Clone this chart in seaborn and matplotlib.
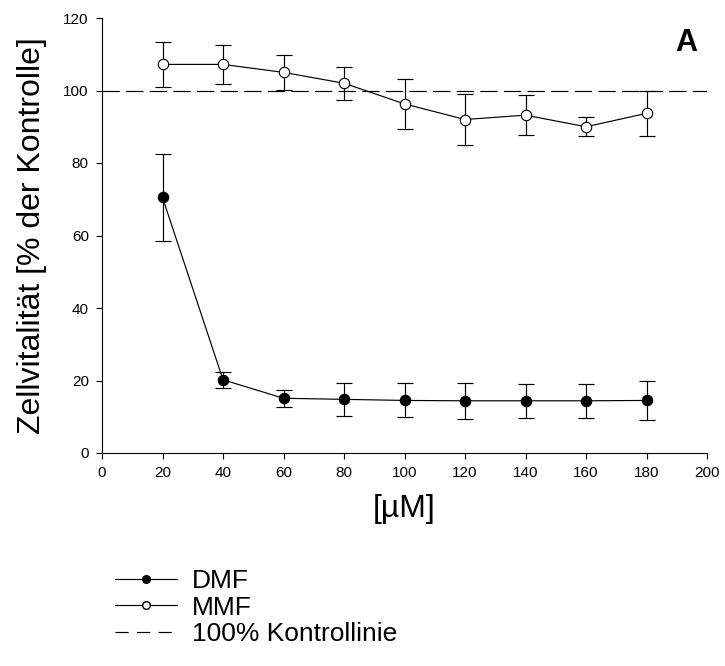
import matplotlib
matplotlib.use("Agg")
import matplotlib.pyplot as plt
from matplotlib.lines import Line2D
import seaborn as sns
import pandas as pd
import numpy as np

# ---- data ----
conc = [20, 40, 60, 80, 100, 120, 140, 160, 180]
dmf_mean = [70.5, 20.2, 15.1, 14.8, 14.5, 14.4, 14.4, 14.4, 14.5]
dmf_err = [11.9, 2.2, 2.3, 4.6, 4.7, 5.0, 4.7, 4.7, 5.4]
mmf_mean = [107.2, 107.2, 105.0, 102.0, 96.3, 92.0, 93.2, 90.0, 93.7]
mmf_err = [6.3, 5.3, 4.8, 4.5, 6.9, 7.1, 5.6, 2.6, 6.3]
control_level = 100
x_ticks = [0, 20, 40, 60, 80, 100, 120, 140, 160, 180, 200]
y_ticks = [0, 20, 40, 60, 80, 100, 120]
labels = ["DMF", "MMF", "100% Kontrollinie"]

sns.set_style("ticks")
plt.rcParams["font.family"] = ["Liberation Sans", "DejaVu Sans"]
plt.rcParams["lines.scale_dashes"] = False
plt.rcParams["text.color"] = "black"
plt.rcParams["axes.labelcolor"] = "black"
plt.rcParams["xtick.color"] = "black"
plt.rcParams["ytick.color"] = "black"

fig = plt.figure(figsize=(7.25, 6.66), dpi=100)
ax = fig.add_axes([102 / 725, 1 - 453 / 666, 605 / 725, 435 / 666])

df_dmf = pd.DataFrame({"x": conc, "y": dmf_mean})
df_mmf = pd.DataFrame({"x": conc, "y": mmf_mean})

lw = 0.85
ax.errorbar(conc, dmf_mean, yerr=dmf_err, fmt="none", ecolor="black",
            elinewidth=lw, capsize=5.5, capthick=lw, zorder=2)
ax.errorbar(conc, mmf_mean, yerr=mmf_err, fmt="none", ecolor="black",
            elinewidth=lw, capsize=5.5, capthick=lw, zorder=2)

sns.lineplot(data=df_dmf, x="x", y="y", ax=ax, color="black", lw=lw,
             marker="o", markersize=7.5, markerfacecolor="black",
             markeredgecolor="black", markeredgewidth=0.8, label=labels[0],
             zorder=3)
sns.lineplot(data=df_mmf, x="x", y="y", ax=ax, color="black", lw=lw,
             marker="o", markersize=7.5, markerfacecolor="white",
             markeredgecolor="black", markeredgewidth=0.8, label=labels[1],
             zorder=3)
ax.axhline(control_level, color="black", lw=lw, ls=(0, (12.5, 4.5)),
           zorder=1)

ax.set_xlim(0, 200)
ax.set_ylim(0, 120)
ax.set_xticks(x_ticks)
ax.set_yticks(y_ticks)
ax.tick_params(axis="both", direction="out", length=4.5, width=0.8,
               labelsize=11, pad=5, colors="black")
for s in ["top", "right"]:
    ax.spines[s].set_visible(False)
for s in ["left", "bottom"]:
    ax.spines[s].set_linewidth(0.8)
    ax.spines[s].set_color("black")

ax.set_xlabel("[µM]", fontsize=23, labelpad=10)
ax.set_ylabel("Zellvitalität [% der Kontrolle]", fontsize=23, labelpad=12)

ax.text(0.965, 0.943, "A", transform=ax.transAxes, ha="center", va="center",
        fontsize=22, fontweight="bold",
        family=["Liberation Sans Narrow", "Liberation Sans", "DejaVu Sans"])

leg = ax.get_legend()
if leg is not None:
    leg.remove()
handles = [
    Line2D([], [], color="black", lw=lw, marker="o", markersize=5.5,
           markerfacecolor="black", markeredgecolor="black"),
    Line2D([], [], color="black", lw=lw, marker="o", markersize=5.5,
           markerfacecolor="white", markeredgecolor="black"),
    Line2D([], [], color="black", lw=lw, ls=(0, (9.5, 6.0))),
]
fig.legend(handles, labels, loc="upper left",
           bbox_to_anchor=(115 / 725, 1 - 569 / 666),
           frameon=False, fontsize=19, handlelength=2.35, handletextpad=0.55,
           labelspacing=0.1, borderpad=0, borderaxespad=0)

fig.savefig("out.png", dpi=100)
